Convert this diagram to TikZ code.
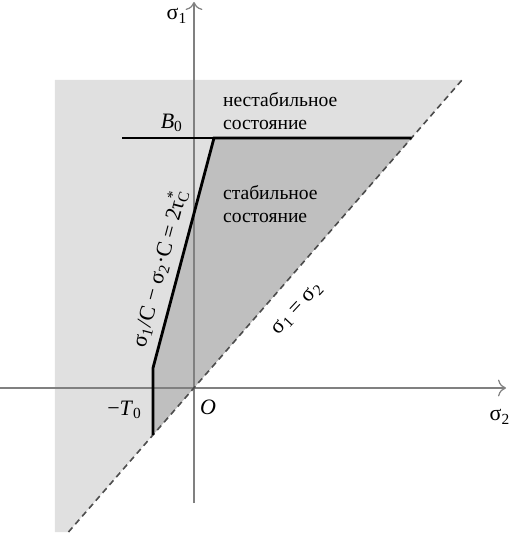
\documentclass[tikz,border=0pt]{standalone}
\usepackage{fontspec}
\setmainfont{Liberation Serif}
\usetikzlibrary{arrows.meta}

\begin{document}
\begin{tikzpicture}[x=0.5pt, y=0.5pt, font=\fontsize{9.8}{11.5}\selectfont,
    axis/.style={black!50, line width=0.6pt},
    bound/.style={black, line width=1.4pt},
    diag/.style={black!70, line width=0.8pt, dash pattern=on 3pt off 2.2pt},
    sig/.style={font=\fontsize{11}{13}\selectfont}]

    \useasboundingbox (-194,-147) rectangle (315,388);

    % Key points
    \coordinate (O)  at (0,0);
    \coordinate (D1) at (-125.5,-144);
    \coordinate (D2) at (268,308);
    \coordinate (B)  at (20,250);
    \coordinate (BR) at (217.6,250);
    \coordinate (K)  at (-41,20);
    \coordinate (T)  at (-41,-47);

    % Unstable region (light)
    \fill[black!12] (-139,308) -- (D2) -- (D1) -- (-139,-144) -- cycle;

    % Stable region (dark)
    \fill[black!25] (B) -- (BR) -- (T) -- (K) -- cycle;

    % Axes
    \draw[axis, -{To[length=4pt]}] (-194,0) -- (312,0);
    \draw[axis, -{To[length=4pt]}] (0,-115) -- (0,386);
    \node[sig] (s1) at (-17,372) {σ\textsubscript{1}};
    \node[sig] (s2) at (306,-29) {σ\textsubscript{2}};
    \node[sig] (o) at (14,-19) {\textit{O}};

    % B0 level
    \draw[black, line width=0.6pt] (-72,250) -- (B);
    \node[sig, anchor=south east] (b0) at (-4,249) {\textit{B}\textsubscript{0}};
    \node[sig, anchor=east] (t0) at (-45,-22) {−\textit{T}\textsubscript{0}};

    % Diagonal sigma1 = sigma2
    \draw[diag] (D1) -- (D2);
    \node[sig, rotate=47] (eq) at (104,79) {σ\textsubscript{1} = σ\textsubscript{2}};

    % Boundary of stable region
    \draw[bound] (BR) -- (B) -- (K) -- (T);
    \node[sig, rotate=75] (crit) at (-35,120)
        {σ\textsubscript{1}/C − σ\textsubscript{2}·C = 2τ\rlap{\textsuperscript{*}}\textsubscript{C}};

    % Region labels
    \node[anchor=west, align=left] (unst) at (22,277) {нестабильное\\состояние};
    \node[anchor=west, align=left] (st) at (22,184) {стабильное\\состояние};

\end{tikzpicture}
\end{document}
